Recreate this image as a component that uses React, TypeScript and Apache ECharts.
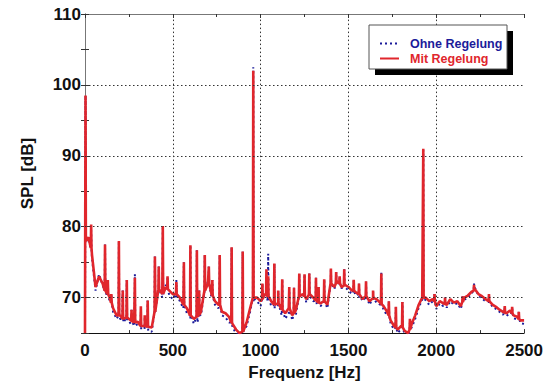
import React, { useEffect, useRef } from "react";
import * as echarts from "echarts";

// [frequency Hz, SPL dB] broadband floor, "Mit Regelung"
const mitBase: [number, number][] = [
  [0, 65], [20, 78.5], [40, 76], [60, 71.5], [80, 73], [100, 72], [120, 70.8], [140, 70], [160, 68.5], [180, 67.5],
  [200, 67.5], [220, 67], [240, 67.2], [260, 66.8], [280, 66.5], [300, 66.6], [320, 66], [340, 66.2], [360, 65.9], [380, 65.8],
  [400, 70.5], [420, 71.2], [440, 70.5], [460, 71.5], [480, 71], [500, 70.5], [520, 70.5], [540, 70], [560, 69], [580, 68.5],
  [600, 67.5], [620, 67], [640, 67.3], [660, 68], [680, 71], [700, 72], [720, 70.5], [740, 69.5], [760, 69], [780, 68],
  [800, 67.8], [820, 67.3], [840, 66.3], [860, 65.5], [880, 65], [900, 65.2], [920, 66.5], [940, 68.5], [960, 70], [980, 70],
  [1000, 69.5], [1020, 70.5], [1040, 70.2], [1060, 69.5], [1080, 69], [1100, 69.3], [1120, 68.3], [1140, 67.8], [1160, 68.5], [1180, 67.5],
  [1200, 68.2], [1220, 70.2], [1240, 70.5], [1260, 69.8], [1280, 70.5], [1300, 70], [1320, 69.5], [1340, 69.2], [1360, 69.5], [1380, 69],
  [1400, 72], [1420, 71.5], [1440, 72.3], [1460, 71.5], [1480, 71.8], [1500, 71.5], [1520, 71], [1540, 70.8], [1560, 70.5], [1580, 69.8],
  [1600, 70.2], [1620, 69.5], [1640, 70], [1660, 69.8], [1680, 69.3], [1700, 68.8], [1720, 68], [1740, 66.8], [1760, 66], [1780, 65.5],
  [1800, 66], [1820, 65.3], [1840, 65], [1860, 66.3], [1880, 67.5], [1900, 69], [1920, 70], [1940, 70], [1960, 69.5], [1980, 69.8],
  [2000, 68.8], [2020, 69.5], [2040, 69.2], [2060, 69], [2080, 69.8], [2100, 69.3], [2120, 69.5], [2140, 68.8], [2160, 70], [2180, 70.3],
  [2200, 70.8], [2220, 71.2], [2240, 70.5], [2260, 70.2], [2280, 69.8], [2300, 69.5], [2320, 69], [2340, 68.7], [2360, 68.3], [2380, 68],
  [2400, 67.8], [2420, 68.2], [2440, 67.5], [2460, 67.3], [2480, 66.8], [2500, 66.8],
];

// [frequency Hz, SPL dB] broadband floor, "Ohne Regelung"
const ohneBase: [number, number][] = [
  [0, 65], [20, 78], [40, 75.5], [60, 71], [80, 73.3], [100, 71.8], [120, 70.5], [140, 69.5], [160, 68], [180, 67],
  [200, 67], [220, 66.5], [240, 66.8], [260, 66.3], [280, 66], [300, 66], [320, 65.5], [340, 65.6], [360, 65.3], [380, 65.2],
  [400, 70], [420, 71], [440, 70], [460, 71.8], [480, 70.3], [500, 69.8], [520, 70], [540, 69.5], [560, 68.5], [580, 67.8],
  [600, 67], [620, 66.3], [640, 66.5], [660, 67.5], [680, 70.8], [700, 72.3], [720, 70], [740, 69], [760, 68.5], [780, 67.5],
  [800, 67.2], [820, 66.5], [840, 65.8], [860, 65], [880, 64.8], [900, 65], [920, 66], [940, 68], [960, 69.5], [980, 69.5],
  [1000, 68.8], [1020, 70.2], [1040, 69.5], [1060, 68.8], [1080, 68.5], [1100, 68.8], [1120, 67.5], [1140, 67], [1160, 67.8], [1180, 66.8],
  [1200, 67.5], [1220, 70], [1240, 70.3], [1260, 69.3], [1280, 70.2], [1300, 69.5], [1320, 69], [1340, 68.8], [1360, 69.2], [1380, 68.5],
  [1400, 72.3], [1420, 71.2], [1440, 72], [1460, 71.3], [1480, 71.5], [1500, 71], [1520, 70.5], [1540, 70.3], [1560, 70], [1580, 69.5],
  [1600, 69.8], [1620, 69], [1640, 69.5], [1660, 69.3], [1680, 69], [1700, 68.3], [1720, 67.5], [1740, 66.3], [1760, 65.5], [1780, 65],
  [1800, 65.6], [1820, 64.8], [1840, 64.6], [1860, 65.8], [1880, 67], [1900, 68.6], [1920, 69.7], [1940, 69.6], [1960, 69], [1980, 69.5],
  [2000, 68.4], [2020, 69.2], [2040, 68.8], [2060, 68.6], [2080, 69.5], [2100, 69], [2120, 69.2], [2140, 68.4], [2160, 69.7], [2180, 70],
  [2200, 70.6], [2220, 71.4], [2240, 70.3], [2260, 69.9], [2280, 69.5], [2300, 69.1], [2320, 68.7], [2340, 68.4], [2360, 68], [2380, 67.6],
  [2400, 67.4], [2420, 67.9], [2440, 67.1], [2460, 66.9], [2480, 66.4], [2500, 66.3],
];

// tonal peaks: [frequency Hz, Mit Regelung dB, Ohne Regelung dB, floor level at the peak dB]
const peaks: [number, number, number, number][] = [
  [3, 98.5, 98.5, 78], [35, 80.3, 79.5, 77], [114, 77.5, 77.5, 71], [130, 72.5, 72.5, 70.5], [150, 70.5, 70.5, 69.3],
  [193, 78, 78, 67.5], [215, 71, 71, 67], [238, 72.5, 72.5, 67.2], [265, 68.3, 68.3, 66.7], [284, 72.8, 73.3, 66.5],
  [318, 68.8, 68, 66], [340, 67.5, 67.3, 66], [357, 69.6, 69.6, 65.9], [398, 75.8, 75.8, 68], [420, 74.4, 74.4, 71.2],
  [443, 80.1, 80.1, 70.5], [470, 73, 73, 71.2], [520, 72.2, 72.5, 70.5], [563, 75, 75, 69], [600, 77.4, 77.4, 67.5],
  [637, 76.7, 76.7, 67.3], [650, 71, 71, 67.6], [682, 76, 76, 71], [705, 74.4, 74.4, 72], [725, 72.5, 72.5, 70.3],
  [767, 76, 76, 69], [835, 77.1, 77.1, 66.5], [898, 76.5, 76.5, 65.2], [958, 102, 102.5, 70], [1010, 72, 72, 69.8],
  [1033, 74, 73, 70.3], [1043, 73, 76.2, 70.2], [1078, 74.8, 74.8, 69], [1100, 71, 71, 69.2], [1123, 72.6, 72.6, 68.3],
  [1163, 71.5, 71, 68.5], [1190, 71.4, 71.4, 67.8], [1220, 73.4, 73.4, 70.2], [1250, 73.3, 73.3, 70.2], [1277, 73.4, 73.4, 70.4],
  [1315, 72.8, 72.8, 69.6], [1330, 71.5, 71.5, 69.3], [1362, 72.6, 72.6, 69.5], [1400, 74.1, 74.1, 72], [1430, 73.6, 73.6, 72],
  [1450, 73, 73, 72], [1476, 74, 74, 71.7], [1530, 72.5, 72.5, 71], [1560, 72, 72, 70.5], [1600, 72.3, 72.3, 70.2],
  [1640, 71, 71, 69.9], [1687, 73.4, 73.6, 69.1], [1730, 69.5, 69.5, 67.5], [1770, 68.7, 68.7, 65.8], [1807, 69.4, 69.4, 65.8],
  [1850, 67, 66.5, 65.5], [1926, 91, 90.8, 70], [1990, 70.5, 70.5, 69.5], [2050, 70, 70, 69.1], [2150, 70.2, 70.2, 69.4],
  [2215, 71.8, 72, 71], [2300, 70.5, 70.5, 69.5], [2390, 68.8, 68.8, 67.9], [2432, 68.7, 68.7, 67.8], [2470, 68, 68, 67],
];

const xTicks = [0, 500, 1000, 1500, 2000, 2500];
const yTicks = [70, 80, 90, 100, 110];
const gridX = [500, 1000, 1500, 2000];
const gridY = [70, 80, 90, 100];

const seriesNames = ["Ohne Regelung", "Mit Regelung"];

function merge(base: [number, number][], idx: number): [number, number][] {
  const pts: [number, number][] = base.map((p) => [p[0], p[1]]);
  peaks.forEach((p) => {
    pts.push([Math.max(0, p[0] - 2), p[3]]);
    pts.push([p[0], p[idx]]);
    pts.push([p[0] + 2, p[3]]);
  });
  pts.sort((a, b) => a[0] - b[0]);
  return pts;
}

const FONT = "Liberation Sans, Arial, Helvetica, sans-serif";

export default function App() {
  const ref = useRef<HTMLDivElement>(null);
  useEffect(() => {
    if (!ref.current) return;
    const chart = echarts.init(ref.current, undefined, { renderer: "svg" });
    const axisCommon = {
      type: "value" as const,
      axisTick: { inside: true, length: 4, lineStyle: { color: "#333" } },
      splitLine: { show: false },
    };
    chart.setOption({
      animation: false,
      backgroundColor: "#ffffff",
      grid: { left: 85, right: 21, top: 14, bottom: 43, show: false },
      xAxis: [
        {
          ...axisCommon,
          min: xTicks[0],
          max: xTicks[xTicks.length - 1],
          interval: 500,
          position: "bottom",
          name: "Frequenz [Hz]",
          nameLocation: "middle",
          nameGap: 24,
          nameTextStyle: { fontFamily: FONT, fontWeight: "bold", fontSize: 17, color: "#111" },
          axisLine: { show: true, lineStyle: { color: "#111", width: 1 } },
          minorTick: { show: true, splitNumber: 2, length: 3, lineStyle: { color: "#333" } },
          axisLabel: {
            margin: 9,
            fontFamily: FONT,
            fontWeight: "bold",
            fontSize: 17,
            color: "#111",
            formatter: (v: number) => String(v),
          },
        },
        {
          ...axisCommon,
          min: xTicks[0],
          max: xTicks[xTicks.length - 1],
          interval: 500,
          position: "top",
          axisLine: { show: true, lineStyle: { color: "#777", width: 1 } },
          minorTick: { show: true, splitNumber: 2, length: 3, lineStyle: { color: "#333" } },
          axisLabel: { show: false },
        },
      ],
      yAxis: [
        {
          ...axisCommon,
          min: 65,
          max: yTicks[yTicks.length - 1],
          interval: 5,
          position: "left",
          name: "SPL [dB]",
          nameLocation: "middle",
          nameGap: 49,
          nameTextStyle: { fontFamily: FONT, fontWeight: "bold", fontSize: 17, color: "#111" },
          axisLine: { show: true, lineStyle: { color: "#777", width: 1 } },
          axisLabel: {
            margin: 4,
            fontFamily: FONT,
            fontWeight: "bold",
            fontSize: 17,
            color: "#111",
            formatter: (v: number) => (yTicks.includes(v) ? String(v) : ""),
          },
        },
        {
          ...axisCommon,
          min: 65,
          max: yTicks[yTicks.length - 1],
          interval: 5,
          position: "right",
          axisLine: { show: true, lineStyle: { color: "#777", width: 1 } },
          axisLabel: { show: false },
        },
      ],
      legend: {
        orient: "vertical",
        left: 374,
        top: 32,
        itemWidth: 19,
        itemHeight: 10,
        itemGap: 2,
        z: 100,
        itemStyle: { opacity: 0 },
        data: [
          { name: seriesNames[0], textStyle: { color: "#1b1b9a" } },
          { name: seriesNames[1], textStyle: { color: "#e0262c" } },
        ],
        textStyle: { fontFamily: FONT, fontWeight: "bold", fontSize: 12.5, padding: [0, 0, 0, 6] },
      },
      graphic: [
        { type: "rect", z: 50, shape: { x: 375, y: 31, width: 138, height: 44 }, style: { fill: "#000" } },
        { type: "rect", z: 51, shape: { x: 369, y: 25, width: 138, height: 44 }, style: { fill: "#fff", stroke: "#555", lineWidth: 1 } },
      ],
      series: [
        {
          type: "line",
          name: "grid",
          data: [],
          z: 1,
          silent: true,
          markLine: {
            silent: true,
            symbol: ["none", "none"],
            label: { show: false },
            lineStyle: { type: [1.5, 2.5], color: "#333", width: 1 },
            data: [...gridY.map((v) => ({ yAxis: v })), ...gridX.map((v) => ({ xAxis: v }))],
          },
        },
        {
          type: "line",
          name: seriesNames[0],
          data: merge(ohneBase, 2),
          symbol: "none",
          z: 3,
          lineStyle: { color: "#1b1b9a", width: 2, type: [2, 3] },
          itemStyle: { color: "#1b1b9a" },
        },
        {
          type: "line",
          name: seriesNames[1],
          data: merge(mitBase, 1),
          symbol: "none",
          z: 4,
          lineStyle: { color: "#e0262c", width: 2.6 },
          itemStyle: { color: "#e0262c" },
        },
      ],
    });
    return () => chart.dispose();
  }, []);
  return (
    <div
      ref={ref}
      style={{ position: "fixed", left: 0, top: 0, width: 546, height: 386, background: "#fff" }}
    />
  );
}
